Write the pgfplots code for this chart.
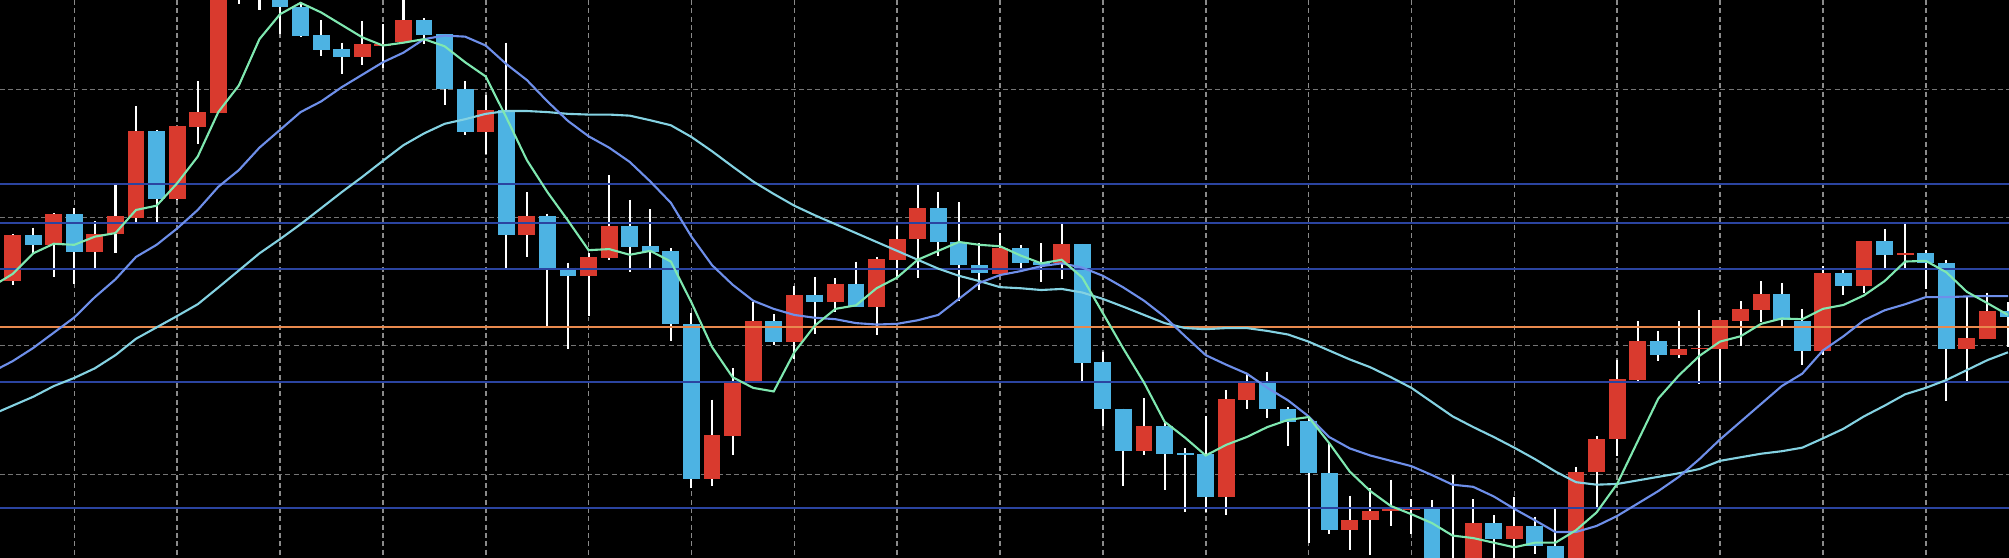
\documentclass[border=0pt]{standalone}
\usepackage{pgfplots}
\usepackage{pgfplotstable}
\pgfplotsset{compat=1.18}
\definecolor{cred}{HTML}{D93A2E}
\definecolor{cblue}{HTML}{4DB3E3}
\definecolor{magreen}{HTML}{7FE8B0}
\definecolor{maperi}{HTML}{6E8FEA}
\definecolor{macyan}{HTML}{84D2E2}
\definecolor{hline}{HTML}{2B44A0}
\definecolor{horange}{HTML}{E8894E}
\definecolor{gridc}{HTML}{8A8A8A}

% j = candle index; t/b = body top/bottom, wt/wb = wick top/bottom (screen units, 0 = top)
\pgfplotstableread{
j t b wt wb
-3 660 790 658 800
-1 602 688 598 778
1 658 707 622 752
2 607 658 520 710
3 368 612 298 623
5 354 558 354 562
6 316 356 228 405
7 -100 318 -150 318
8 -200 -120 -250 12
14 125 160 60 182
15 124 130 68 192
16 57 118 -10 118
20 310 370 268 433
22 607 660 540 722
25 722 776 712 888
26 636 724 493 730
31 1222 1347 1123 1365
32 1075 1225 1035 1280
33 903 1072 848 1072
35 830 960 805 1010
37 797 848 782 878
39 728 862 722 942
40 672 730 635 782
41 585 673 520 780
45 698 770 655 770
48 685 738 625 785
52 1197 1267 1118 1278
56 1122 1397 1096 1448
57 1075 1125 1052 1148
62 1462 1490 1393 1545
63 1437 1462 1372 1560
64 1430 1436 1348 1478
65 1428 1432 1402 1500
67 1580 1620 1335 1640
68 1470 1600 1403 1620
70 1478 1515 1397 1600
73 1325 1600 1312 1620
74 1235 1325 1225 1425
75 1065 1235 1012 1282
76 958 1067 903 1070
78 980 998 903 1005
79 978 982 872 1078
80 900 980 900 1078
81 868 902 846 973
82 825 870 790 905
85 768 987 748 998
87 678 803 678 822
89 712 718 628 752
92 950 980 835 1072
93 873 952 822 952
}\redtab

\pgfplotstableread{
j t b wt wb
-4 685 790 670 800
-2 660 688 640 712
0 602 707 585 797
4 368 558 365 623
9 -80 -40 -100 28
10 -40 20 -60 95
11 20 100 5 103
12 98 140 57 157
13 138 160 120 208
17 56 97 52 125
18 95 250 95 295
19 250 370 228 378
21 310 660 120 760
23 607 752 600 915
24 752 776 738 982
27 636 694 562 765
28 692 708 588 752
29 706 910 698 957
30 910 1347 880 1370
34 903 960 883 970
36 828 848 778 938
38 797 862 735 862
42 585 680 540 720
43 680 745 568 845
44 745 768 682 815
46 698 738 688 752
47 736 746 683 792
49 685 1020 685 1070
50 1018 1150 988 1198
51 1148 1267 1148 1367
53 1197 1275 1190 1377
54 1273 1278 1260 1438
55 1275 1397 1170 1440
58 1075 1150 1045 1175
59 1150 1185 1145 1252
60 1182 1330 1170 1525
61 1330 1490 1245 1502
66 1430 1600 1405 1620
69 1470 1515 1448 1568
71 1478 1535 1452 1558
72 1535 1600 1430 1620
77 958 998 930 1015
83 825 900 795 922
84 902 987 868 1027
86 768 803 758 828
88 678 717 643 752
90 712 740 703 812
91 740 980 730 1128
94 873 892 850 975
}\bluetab

\begin{document}
\begin{tikzpicture}
\begin{axis}[
  width=20.09cm, height=5.58cm, scale only axis,
  xmin=-3.612, xmax=94.05, ymin=0, ymax=1568, y dir=reverse,
  axis background/.style={fill=black},
  axis line style={draw=none},
  xtick={0,5,...,90}, ytick={251,611,971,1333},
  xticklabels={}, yticklabels={},
  major tick length=0pt,
  grid=major,
  x grid style={gridc, line width=0.45pt, dash pattern=on 1.42pt off 0.95pt},
  y grid style={gridc!85!black, line width=0.45pt, dash pattern=on 1.42pt off 0.9pt},
  clip=true,
]
% wicks
\addplot[white, line width=0.6pt, -, quiver={u=0, v={\thisrow{wb}-\thisrow{wt}}}] table[x=j, y=wt] {\redtab};
\addplot[white, line width=0.6pt, -, quiver={u=0, v={\thisrow{wb}-\thisrow{wt}}}] table[x=j, y=wt] {\bluetab};
% bodies
\addplot[cred, line width=4.8pt, -, quiver={u=0, v={\thisrow{b}-\thisrow{t}}}] table[x=j, y=t] {\redtab};
\addplot[cblue, line width=4.8pt, -, quiver={u=0, v={\thisrow{b}-\thisrow{t}}}] table[x=j, y=t] {\bluetab};
% horizontal levels
\addplot[hline, line width=0.6pt] coordinates {(-5,517) (100,517)};
\addplot[hline, line width=0.6pt] coordinates {(-5,626) (100,626)};
\addplot[hline, line width=0.6pt] coordinates {(-5,756) (100,756)};
\addplot[hline, line width=0.6pt] coordinates {(-5,1073) (100,1073)};
\addplot[hline, line width=0.6pt] coordinates {(-5,1427) (100,1427)};
\addplot[horange, line width=0.6pt] coordinates {(-5,918) (100,918)};
% long MA
\addplot[macyan, line width=0.6pt] coordinates {
(-4,1165) (-3,1140) (-2,1115) (-1,1085) (0,1062) (1,1035) (2,998) (3,952) (4,920) (5,888) (6,855) (7,808) (8,760) (9,712)
(10,672) (11,630) (12,585) (13,540) (14,497) (15,452) (16,408) (17,375) (18,348) (19,335) (20,320) (21,312)
(22,312) (23,315) (24,320) (25,322) (26,322) (27,325) (28,338) (29,352) (30,385) (31,425) (32,468) (33,510)
(34,545) (35,578) (36,605) (37,630) (38,655) (39,680) (40,705) (41,730) (42,755) (43,775) (44,790) (45,807)
(46,810) (47,815) (48,812) (49,822) (50,840) (51,862) (52,885) (53,908) (54,922) (55,925) (56,922) (57,922)
(58,930) (59,940) (60,960) (61,985) (62,1010) (63,1032) (64,1060) (65,1090) (66,1130) (67,1170) (68,1200) (69,1228) (70,1258)
(71,1290) (72,1325) (73,1355) (74,1362) (75,1360) (76,1350) (77,1340) (78,1330) (79,1318) (80,1295) (81,1285) (82,1275)
(83,1268) (84,1258) (85,1232) (86,1205) (87,1170) (88,1140) (89,1108) (90,1090) (91,1068) (92,1040) (93,1012) (94,990)};
% medium MA
\addplot[maperi, line width=0.6pt] coordinates {
(-4,1045) (-3,1015) (-2,978) (-1,935) (0,892) (1,835) (2,785) (3,722) (4,688) (5,642) (6,590) (7,525) (8,478) (9,415)
(10,365) (11,315) (12,285) (13,245) (14,210) (15,175) (16,148) (17,110) (18,100) (19,103) (20,128) (21,180)
(22,225) (23,285) (24,340) (25,383) (26,415) (27,455) (28,510) (29,570) (30,665) (31,745) (32,800) (33,845)
(34,868) (35,885) (36,893) (37,897) (38,908) (39,912) (40,910) (41,900) (42,885) (43,840) (44,795) (45,773)
(46,762) (47,748) (48,740) (49,752) (50,775) (51,808) (52,845) (53,890) (54,945) (55,998) (56,1025) (57,1050)
(58,1090) (59,1125) (60,1170) (61,1228) (62,1260) (63,1280) (64,1295) (65,1310) (66,1335) (67,1362) (68,1368) (69,1395) (70,1430)
(71,1462) (72,1495) (73,1495) (74,1478) (75,1450) (76,1415) (77,1380) (78,1340) (79,1290) (80,1235) (81,1185) (82,1135)
(83,1085) (84,1050) (85,985) (86,945) (87,900) (88,872) (89,855) (90,835) (91,835) (92,833) (93,832) (94,832)};
% short MA
\addplot[magreen, line width=0.6pt] coordinates {
(-4,805) (-3,770) (-2,712) (-1,685) (0,688) (1,665) (2,655) (3,590) (4,578) (5,515) (6,440) (7,315) (8,240) (9,110)
(10,40) (11,8) (12,35) (13,70) (14,105) (15,128) (16,120) (17,110) (18,130) (19,175) (20,215) (21,330)
(22,450) (23,540) (24,620) (25,703) (26,700) (27,716) (28,705) (29,735) (30,850) (31,975) (32,1060) (33,1090)
(34,1100) (35,990) (36,915) (37,868) (38,858) (39,810) (40,780) (41,730) (42,705) (43,680) (44,688) (45,692)
(46,718) (47,740) (48,730) (49,780) (50,880) (51,980) (52,1075) (53,1185) (54,1230) (55,1280) (56,1250) (57,1228)
(58,1200) (59,1180) (60,1172) (61,1245) (62,1325) (63,1380) (64,1422) (65,1445) (66,1470) (67,1505) (68,1512) (69,1525) (70,1538)
(71,1525) (72,1525) (73,1490) (74,1440) (75,1360) (76,1240) (77,1120) (78,1055) (79,1000) (80,960) (81,945) (82,910)
(83,895) (84,897) (85,868) (86,857) (87,830) (88,790) (89,735) (90,733) (91,765) (92,820) (93,852) (94,885)};
\end{axis}
\pgfresetboundingbox
\useasboundingbox (current axis.south west) rectangle (current axis.north east);
\end{tikzpicture}
\end{document}
